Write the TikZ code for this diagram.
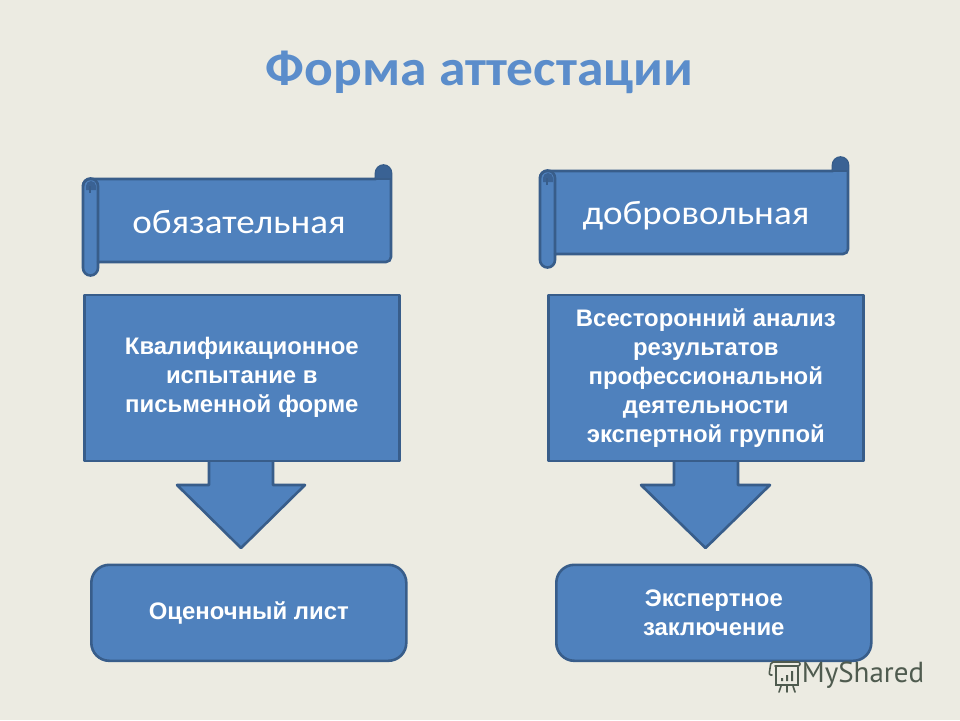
\documentclass[tikz,border=0pt]{standalone}
\usepackage{fontspec}
\setmainfont{Liberation Sans}
\newfontfamily\carl{Carlito}
\newfontfamily\carlw[FakeStretch=1.05]{Carlito}
\newfontfamily\carls[FakeStretch=1.09]{Carlito}
\newfontfamily\ptsans{PT Sans}
\definecolor{bgc}{HTML}{ECEBE2}
\definecolor{fillc}{HTML}{4F81BD}
\definecolor{linec}{HTML}{385D8A}
\definecolor{darkc}{HTML}{3A6294}
\definecolor{titlec}{HTML}{5B8DCB}
\definecolor{wmc}{HTML}{4F5B4F}
\tikzset{
  shapeb/.style={draw=linec,fill=fillc,line width=2.6pt,line join=round},
  rollb/.style={draw=linec,line width=2.6pt,line join=round},
  bodytext/.style={text=white,font=\fontsize{23.9}{29}\selectfont\bfseries,align=center,inner sep=0pt},
  scrolltext/.style={text=white,font=\carls\fontsize{34}{38}\selectfont,inner sep=0pt},
  titletext/.style={text=titlec,font=\carlw\fontsize{51}{58}\selectfont\bfseries,inner sep=0pt}
}
\newcommand{\scrollshape}[2]{%
 \begin{scope}[shift={(#1,#2)}]
  \path[shapeb] (376,179) -- (376,173) arc[start angle=180,end angle=360,radius=7.5] -- (391,257)
     arc[start angle=0,end angle=90,radius=5] -- (98,262) -- (98,268)
     arc[start angle=0,end angle=180,radius=7.5] -- (83,186)
     arc[start angle=180,end angle=270,radius=7] -- cycle;
  \path[fill=darkc] (376,179) -- (376,173) arc[start angle=180,end angle=360,radius=7.5] -- (391,179) -- cycle;
  \path[fill=darkc] (86,186) arc[start angle=180,end angle=360,radius=5] -- (96,190) -- (86,190) -- cycle;
  \draw[rollb] (98,262) -- (98,186) arc[start angle=0,end angle=-180,radius=7.5];
  \draw[rollb,line width=1.4pt] (376,179) -- (391,179);
  \draw[rollb,line width=1.2pt] (90,193) -- (90,186);
 \end{scope}}
\begin{document}
\begin{tikzpicture}[x=1pt,y=-1pt]
\useasboundingbox (0,0) rectangle (960,720);
\fill[bgc] (0,0) rectangle (960,720);

\node[titletext] (title) at (479.5,72) {Форма аттестации};

\scrollshape{0}{0}
\scrollshape{457}{-8}
\node[scrolltext] (s1) at (239,222) {обязательная};
\node[scrolltext] (s2) at (696,216) {добровольная};

% arrows first, boxes on top
\path[shapeb] (209,459) -- (209,485) -- (177,485) -- (241,548) -- (305,485) -- (273,485) -- (273,459);
\path[shapeb] (674,459) -- (674,485) -- (641,485) -- (705.5,548) -- (770,485) -- (738,485) -- (738,459);

\node[shapeb,rectangle,minimum width=315pt,minimum height=166pt,inner sep=0pt,anchor=north west,bodytext] (b1) at (83,293.5) {\raisebox{0pt}{Квалификационное}\\испытание в\\письменной форме};
\node[shapeb,rectangle,minimum width=315pt,minimum height=166pt,inner sep=0pt,anchor=north west,bodytext] (b2) at (547,293.5) {Всесторонний анализ\\результатов\\профессиональной\\деятельности\\экспертной группой};
\node[shapeb,rectangle,rounded corners=18pt,minimum width=315pt,minimum height=96pt,inner sep=0pt,anchor=north west,bodytext] (c1) at (90,563.5) {Оценочный лист};
\node[shapeb,rectangle,rounded corners=18pt,minimum width=315pt,minimum height=96pt,inner sep=0pt,anchor=north west,bodytext] (c2) at (555,563.5) {Экспертное\\заключение};

% watermark
\begin{scope}[draw=wmc,line width=1.6pt,line cap=round]
 \draw[rounded corners=2pt] (772,675) -- (769,675) -- (771,662) -- (800,662) -- (800,666) -- (775,666);
 \draw (776,667) -- (776,685) -- (798,685) -- (798,667);
 \draw (781,686) -- (779,692) (787,686) -- (787,692) (793,686) -- (795,692);
 \fill[wmc] (781,678) rectangle (783,681) (786,675) rectangle (788,681) (791,671) rectangle (793,681);
\end{scope}
\node[text=wmc,font=\ptsans\fontsize{29}{32}\selectfont,inner sep=0pt,anchor=center] (wm) at (863,675) {MyShared};
\end{tikzpicture}
\end{document}
